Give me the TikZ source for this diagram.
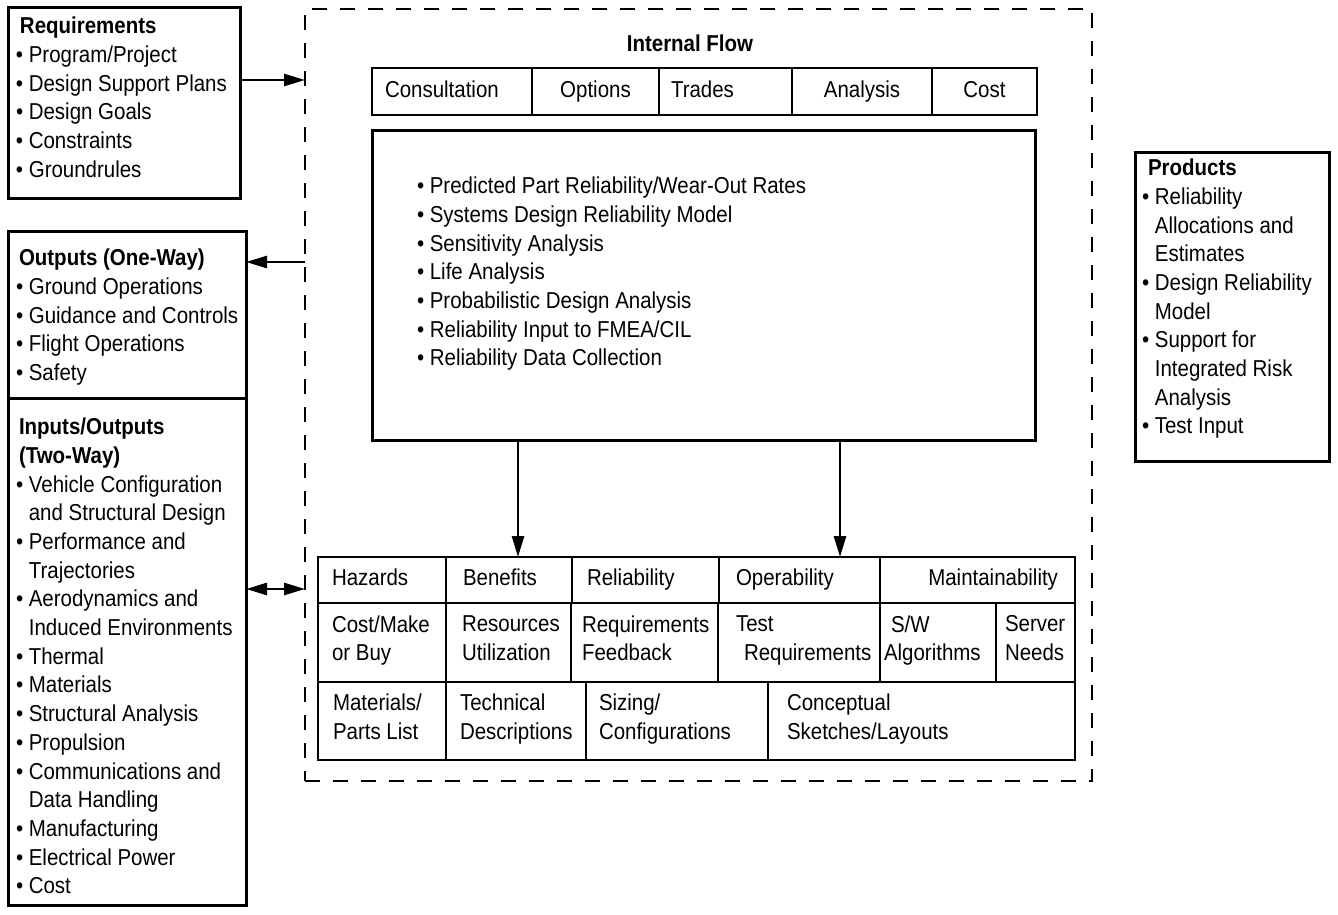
\documentclass[tikz,border=0pt]{standalone}
\usepackage{fontspec}
\setmainfont{Liberation Sans}[FakeStretch=0.89]
\usetikzlibrary{arrows.meta}
\newcommand\bul{\textbullet\ }
\newcommand\ind{\phantom{\textbullet\ }}
\newcommand\gcell[7]{%
  \node[cellbox, minimum width={#4-#2}, minimum height={#5-#3}] (#1) at (#2,#3) {};
  \node[ctxt] (#1t) at ([xshift=#6pt]#1.west) {#7};}
\begin{document}
\begin{tikzpicture}[x=1pt,y=-1pt,
  font=\fontsize{23}{28.7}\selectfont,
  box/.style={draw, line width=3pt, outer sep=0pt, inner sep=0pt, anchor=north west},
  cellbox/.style={draw, line width=2.6pt, outer sep=0pt, inner sep=0pt, anchor=north west},
  dashbox/.style={draw, line width=2.8pt, dash pattern=on 15pt off 13pt, outer sep=0pt, inner sep=0pt, anchor=north west},
  txt/.style={inner sep=0pt, outer sep=0pt, align=left, anchor=north west, execute at begin node=\strut},
  ctxt/.style={inner sep=0pt, outer sep=0pt, align=left, anchor=west, execute at begin node=\strut, execute at end node=\strut},
  arr/.style={line width=2.6pt, -{Triangle[length=21pt,width=12pt]}},
  arrb/.style={line width=2.6pt, {Triangle[length=21pt,width=12pt]}-{Triangle[length=21pt,width=12pt]}}]
\useasboundingbox (0,0) rectangle (1338,915);

% dashed outer frame
\node[dashbox, minimum width=787, minimum height=772] (flow) at (305,9) {};

% left boxes
\node[box, minimum width=232, minimum height=190] (req) at (8,8) {};
\node[txt] (reqt) at (16,17) {\hspace{4pt}\textbf{Requirements}\\
\bul Program/Project\\
\bul Design Support Plans\\
\bul Design Goals\\
\bul Constraints\\
\bul Groundrules};

\node[box, minimum width=238, minimum height=167] (out) at (8,231) {};
\node[txt] (outt) at (16,249) {\hspace{3pt}\textbf{Outputs (One-Way)}\\
\bul Ground Operations\\
\bul Guidance and Controls\\
\bul Flight Operations\\
\bul Safety};

\node[box, minimum width=238, minimum height=507] (io) at (8,398) {};
\node[txt] (iot) at (16,418) {\hspace{3pt}\textbf{Inputs/Outputs}\\
\hspace{3pt}\textbf{(Two-Way)}\\
\bul Vehicle Configuration\\
\ind and Structural Design\\
\bul Performance and\\
\ind Trajectories\\
\bul Aerodynamics and\\
\ind Induced Environments\\
\bul Thermal\\
\bul Materials\\
\bul Structural Analysis\\
\bul Propulsion\\
\bul Communications and\\
\ind Data Handling\\
\bul Manufacturing\\
\bul Electrical Power\\
\bul Cost};

% products box
\node[box, minimum width=194, minimum height=309] (prod) at (1135,152) {};
\node[txt] (prodt) at (1142,159) {\hspace{6pt}\textbf{Products}\\
\bul Reliability\\
\ind Allocations and\\
\ind Estimates\\
\bul Design Reliability\\
\ind Model\\
\bul Support for\\
\ind Integrated Risk\\
\ind Analysis\\
\bul Test Input};

% internal flow title
\node[inner sep=0pt, anchor=base] (title) at (690,52) {\textbf{Internal Flow}};

% top row
\gcell{cons}{372}{68}{532}{115}{13}{Consultation}
\node[cellbox, minimum width=127, minimum height=47] (opt) at (532,68) {};
\node[ctxt, anchor=center] (optt) at (opt.center) {Options};
\gcell{trad}{659}{68}{792}{115}{12}{Trades}
\node[cellbox, minimum width=140, minimum height=47] (ana) at (792,68) {};
\node[ctxt, anchor=center] (anat) at (ana.center) {Analysis};
\node[cellbox, minimum width=105, minimum height=47] (cost) at (932,68) {};
\node[ctxt, anchor=center] (costt) at (cost.center) {Cost};

% model box
\node[box, minimum width=663, minimum height=309] (model) at (372,131) {};
\node[txt] (modelt) at (417,177) {\bul Predicted Part Reliability/Wear-Out Rates\\
\bul Systems Design Reliability Model\\
\bul Sensitivity Analysis\\
\bul Life Analysis\\
\bul Probabilistic Design Analysis\\
\bul Reliability Input to FMEA/CIL\\
\bul Reliability Data Collection};

% grid row 1
\gcell{haz}{318}{557}{446}{603}{14}{Hazards}
\gcell{ben}{446}{557}{572}{603}{17}{Benefits}
\gcell{rel}{572}{557}{719}{603}{15}{Reliability}
\gcell{ope}{719}{557}{880}{603}{17}{Operability}
\node[cellbox, minimum width=195, minimum height=46] (mai) at (880,557) {};
\node[ctxt, anchor=east] (mait) at ([xshift=-17pt]mai.east) {Maintainability};
% grid row 2
\gcell{cmb}{318}{603}{446}{682}{14}{Cost/Make\\or Buy}
\gcell{res}{446}{603}{571}{682}{16}{Resources\\Utilization}
\gcell{rfb}{571}{603}{718}{682}{11}{Requirements\\Feedback}
\gcell{treq}{718}{603}{880}{682}{18}{Test\\\hspace{8pt}Requirements}
\gcell{swa}{880}{603}{996}{682}{4}{\hspace{7pt}S/W\\Algorithms}
\gcell{srv}{996}{603}{1075}{682}{9}{Server\\Needs}
% grid row 3
\gcell{mat}{318}{682}{446}{760}{15}{Materials/\\Parts List}
\gcell{tec}{446}{682}{586}{760}{14}{Technical\\Descriptions}
\gcell{siz}{586}{682}{768}{760}{13}{Sizing/\\Configurations}
\gcell{con}{768}{682}{1075}{760}{19}{Conceptual\\Sketches/Layouts}

% connectors
\coordinate (ra) at ([yshift=23pt]req.east);
\draw[arr] (ra) -- (ra -| flow.west);
\coordinate (oa) at ([yshift=52.5pt]out.east);
\draw[arr] (oa -| flow.west) -- (oa);
\coordinate (ia) at ([yshift=62.5pt]io.east);
\draw[arrb] (ia) -- (ia -| flow.west);
\coordinate (d1) at ([xshift=9pt]ben.north);
\draw[arr] (d1 |- model.south) -- (d1);
\coordinate (d2) at ([xshift=40.5pt]ope.north);
\draw[arr] (d2 |- model.south) -- (d2);
\end{tikzpicture}
\end{document}
